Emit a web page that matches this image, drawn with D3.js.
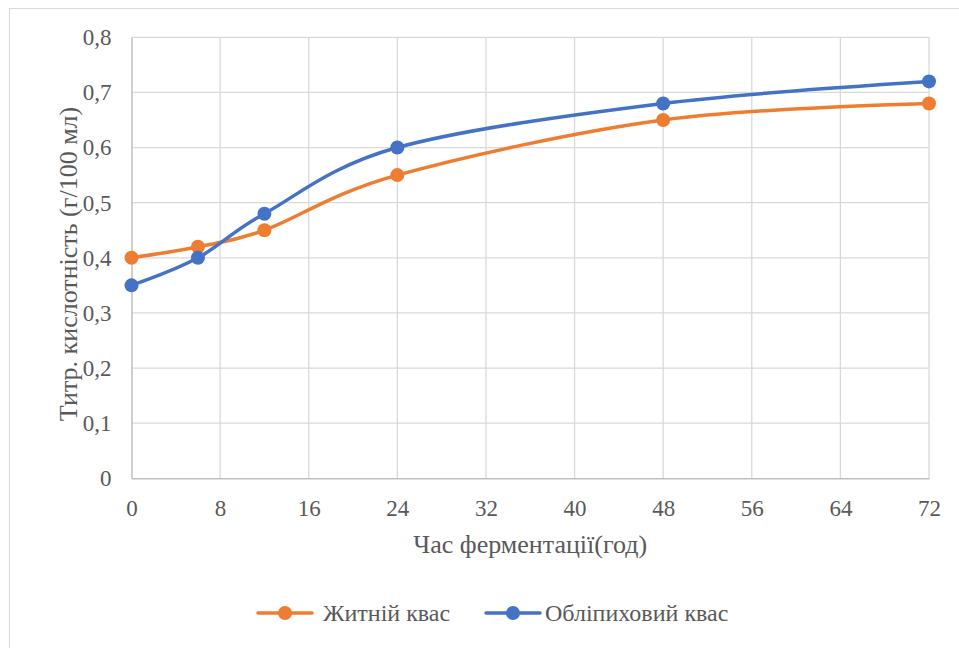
<!DOCTYPE html>
<html>
<head>
<meta charset="utf-8">
<script src="https://cdn.jsdelivr.net/npm/d3@7"></script>
<style>
  html, body { margin: 0; padding: 0; background: #fff; }
  svg { display: block; }
</style>
</head>
<body>
<script>
// Fermentation time, hours
const hours = [0, 6, 12, 24, 48, 72];
// Titratable acidity, g/100 ml
const ryeKvass = [0.40, 0.42, 0.45, 0.55, 0.65, 0.68];
const seaBuckthornKvass = [0.35, 0.40, 0.48, 0.60, 0.68, 0.72];
const seriesNames = ["Житній квас", "Обліпиховий квас"];
const seriesColors = ["#ED7D31", "#4472C4"];
const xTicks = [0, 8, 16, 24, 32, 40, 48, 56, 64, 72];
const yTicks = [0, 0.1, 0.2, 0.3, 0.4, 0.5, 0.6, 0.7, 0.8];

const W = 959, H = 648;
const FONT = "'Liberation Serif', 'Times New Roman', Tinos, serif";
const TEXT_COLOR = "#595959";
const svg = d3.select("body").append("svg").attr("width", W).attr("height", H)
  .attr("font-family", FONT);

// chart frame
svg.append("rect").attr("x", 9.5).attr("y", 8.5).attr("width", 980).attr("height", 700)
  .attr("fill", "#fff").attr("stroke", "#d9d9d9").attr("stroke-width", 1);

const plotL = 131.5, plotR = 929, plotT = 37.3, plotB = 478.3;
const x = d3.scaleLinear().domain([0, 72]).range([plotL, plotR]);
const y = d3.scaleLinear().domain([0, 0.8]).range([plotB, plotT]);

const fmt = v => d3.format(".1f")(v).replace(".", ",");

// gridlines
const grid = svg.append("g");
grid.selectAll(".hg").data(yTicks.filter(v => v > 0)).join("line")
  .attr("x1", plotL).attr("x2", plotR)
  .attr("y1", d => y(d)).attr("y2", d => y(d))
  .attr("stroke", "#d9d9d9").attr("stroke-width", 1.3);
grid.selectAll(".vg").data(xTicks.filter(v => v > 0)).join("line")
  .attr("x1", d => x(d)).attr("x2", d => x(d))
  .attr("y1", plotT).attr("y2", plotB)
  .attr("stroke", "#d9d9d9").attr("stroke-width", 1.3);

// axes
const xAxis = svg.append("g").attr("transform", `translate(0,${plotB})`)
  .call(d3.axisBottom(x).tickValues(xTicks).tickSize(0).tickPadding(21).tickFormat(d3.format("d")));
const yAxis = svg.append("g").attr("transform", `translate(${plotL},0)`)
  .call(d3.axisLeft(y).tickValues(yTicks).tickSize(0).tickPadding(20)
    .tickFormat(d => d === 0 ? "0" : fmt(d)));
[xAxis, yAxis].forEach(a => {
  a.attr("font-family", FONT).attr("font-size", 23);
  a.select(".domain").attr("stroke", "#bfbfbf").attr("stroke-width", 1.5);
  a.selectAll("text").attr("fill", TEXT_COLOR).attr("font-family", FONT).attr("font-size", 23);
});

// axis titles
svg.append("text").attr("x", (plotL + plotR) / 2).attr("y", 553)
  .attr("text-anchor", "middle").attr("font-family", FONT).attr("font-size", 26).attr("fill", TEXT_COLOR)
  .text("Час ферментації(год)");
svg.append("text").attr("transform", "translate(77,264) rotate(-90)")
  .attr("text-anchor", "middle").attr("font-family", FONT).attr("font-size", 26).attr("fill", TEXT_COLOR)
  .text("Титр. кислотність (г/100 мл)");

// series lines and markers
const allSeries = [ryeKvass, seaBuckthornKvass];
const line = d3.line().x(d => x(d[0])).y(d => y(d[1])).curve(d3.curveCatmullRom.alpha(0));
allSeries.forEach((vals, i) => {
  const pts = hours.map((h, j) => [h, vals[j]]);
  svg.append("path").datum(pts).attr("d", line)
    .attr("fill", "none").attr("stroke", seriesColors[i]).attr("stroke-width", 3.5)
    .attr("stroke-linecap", "round");
  svg.append("g").selectAll("circle").data(pts).join("circle")
    .attr("cx", d => x(d[0])).attr("cy", d => y(d[1])).attr("r", 7)
    .attr("fill", seriesColors[i]);
});

// legend
const legendItems = [{ x0: 258, tx: 323 }, { x0: 486, tx: 545 }];
legendItems.forEach((l, i) => {
  const g = svg.append("g");
  g.append("line").attr("x1", l.x0).attr("x2", l.x0 + 54).attr("y1", 613).attr("y2", 613)
    .attr("stroke", seriesColors[i]).attr("stroke-width", 3.5).attr("stroke-linecap", "round");
  g.append("circle").attr("cx", l.x0 + 27).attr("cy", 613).attr("r", 7).attr("fill", seriesColors[i]);
  g.append("text").attr("x", l.tx).attr("y", 621).attr("font-family", FONT).attr("font-size", 24)
    .attr("fill", TEXT_COLOR).text(seriesNames[i]);
});
</script>
</body>
</html>
